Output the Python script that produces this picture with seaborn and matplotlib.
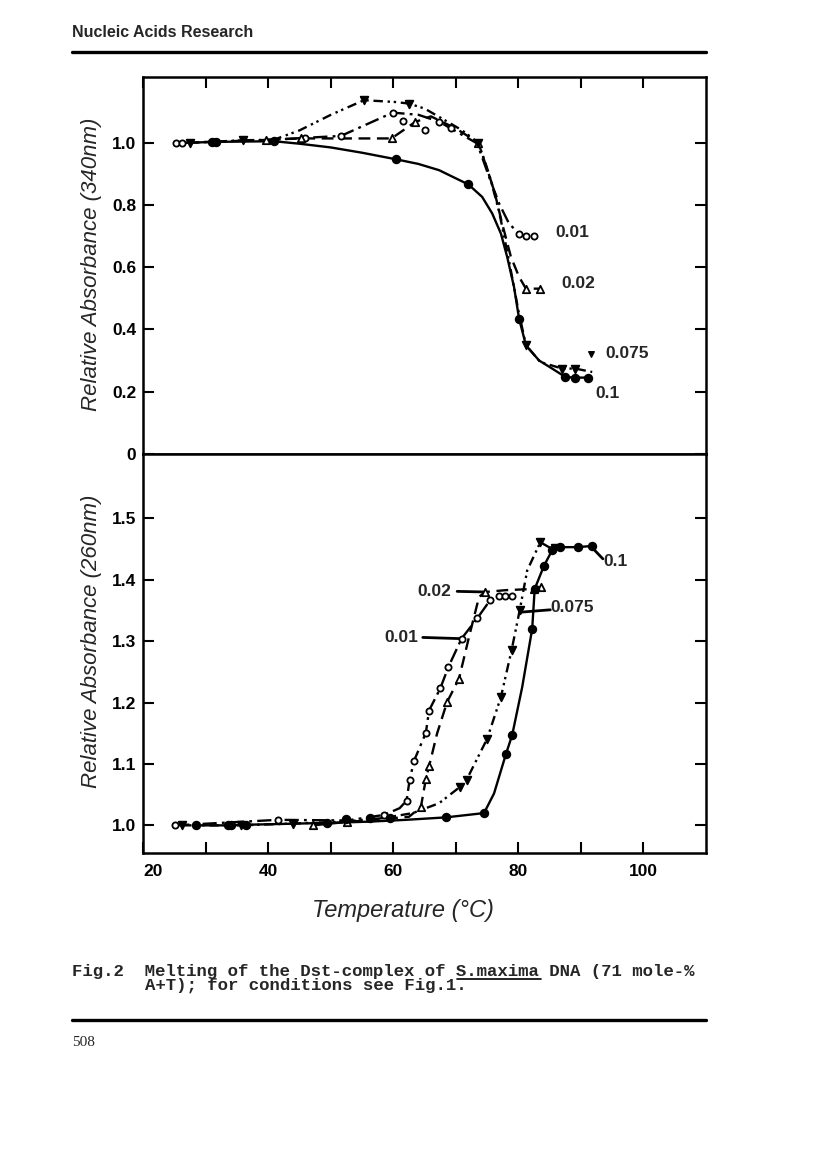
#Melting curves of the Dst-complex, two panels (340 nm and 260 nm)
import matplotlib
matplotlib.use("Agg")
import matplotlib.pyplot as plt
from matplotlib.lines import Line2D
import seaborn as sns

# ---- top panel (340 nm) ----
# 0.1 : solid line, filled circles
top_010_line_t = [27.0, 31.6, 40.9, 45.0, 50.0, 55.0, 60.4, 64.0, 67.3, 72.0, 74.2, 75.8, 77.2, 78.2, 79.3, 80.1, 81.2, 83.3, 85.4, 87.5, 89.0, 91.2]
top_010_line_v = [1.0, 1.003, 1.005, 0.997, 0.985, 0.968, 0.947, 0.932, 0.912, 0.866, 0.826, 0.773, 0.708, 0.633, 0.536, 0.435, 0.349, 0.300, 0.274, 0.247, 0.245, 0.245]
top_010_pts_t = [31.0, 31.6, 40.9, 60.4, 72.0, 80.1, 87.5, 89.0, 91.2]
top_010_pts_v = [1.003, 1.003, 1.005, 0.947, 0.866, 0.435, 0.247, 0.245, 0.245]

# 0.075 : dash-dot-dot, filled down triangles
top_0075_line_t = [27.5, 35.9, 40.9, 45.0, 50.0, 55.3, 60.4, 62.5, 65.0, 68.2, 71.0, 73.6, 75.3, 76.9, 78.5, 80.0, 81.2, 83.5, 87.0, 89.1, 91.8]
top_0075_line_v = [1.0, 1.008, 1.01, 1.04, 1.09, 1.137, 1.131, 1.126, 1.11, 1.073, 1.04, 1.0, 0.90, 0.78, 0.62, 0.46, 0.349, 0.295, 0.274, 0.274, 0.263]
top_0075_pts_t = [27.5, 35.9, 55.3, 62.5, 73.6, 81.2, 87.0, 89.1]
top_0075_pts_v = [1.0, 1.008, 1.137, 1.126, 1.0, 0.349, 0.274, 0.274]

# 0.02 : dashed, open triangles
top_002_line_t = [39.7, 45.3, 59.7, 63.5, 66.0, 70.0, 73.6, 76.1, 77.4, 78.8, 80.1, 81.2, 83.5]
top_002_line_v = [1.01, 1.014, 1.014, 1.067, 1.085, 1.046, 1.0, 0.848, 0.74, 0.633, 0.569, 0.531, 0.531]
top_002_pts_t = [39.7, 45.3, 59.7, 63.5, 73.6, 81.2, 83.5]
top_002_pts_v = [1.01, 1.014, 1.014, 1.067, 1.0, 0.531, 0.531]

# 0.01 : dash-dot, open circles
top_001_line_t = [25.3, 26.2, 40.9, 45.9, 51.6, 59.9, 64.0, 67.3, 69.2, 73.4, 75.3, 76.9, 78.5, 80.1, 81.2, 82.5]
top_001_line_v = [1.0, 1.0, 1.01, 1.016, 1.022, 1.097, 1.09, 1.068, 1.046, 0.998, 0.891, 0.805, 0.740, 0.708, 0.70, 0.70]
top_001_pts_t = [25.3, 26.2, 45.9, 51.6, 59.9, 61.5, 65.0, 67.3, 69.2, 80.1, 81.2, 82.5]
top_001_pts_v = [1.0, 1.0, 1.016, 1.022, 1.097, 1.07, 1.041, 1.068, 1.046, 0.708, 0.70, 0.70]

top_labels = ["0.01", "0.02", "0.075", "0.1"]
top_label_t = [88.6, 89.5, 97.4, 94.2]
top_label_v = [0.713, 0.547, 0.322, 0.193]

# ---- bottom panel (260 nm) ----
bot_010_line_t = [28.4, 33.5, 36.5, 49.4, 56.0, 62.0, 68.4, 74.5, 76.1, 78.0, 79.0, 80.6, 82.2, 82.6, 84.1, 85.4, 86.7, 89.5, 91.8]
bot_010_line_v = [1.0, 1.0, 1.001, 1.004, 1.006, 1.009, 1.013, 1.020, 1.052, 1.116, 1.147, 1.225, 1.320, 1.385, 1.423, 1.448, 1.453, 1.453, 1.455]
bot_010_pts_t = [28.4, 33.5, 34.1, 36.5, 49.4, 52.4, 56.2, 59.4, 68.4, 74.5, 78.0, 79.0, 82.2, 82.6, 84.1, 85.4, 86.7, 89.5, 91.8]
bot_010_pts_v = [1.0, 1.0, 1.0, 1.0, 1.004, 1.010, 1.012, 1.012, 1.013, 1.020, 1.116, 1.147, 1.320, 1.385, 1.423, 1.448, 1.453, 1.453, 1.455]

bot_0075_line_t = [26.2, 35.6, 44.0, 52.0, 58.5, 63.1, 67.3, 70.7, 71.7, 75.0, 77.2, 78.9, 80.2, 81.4, 83.5, 85.4]
bot_0075_line_v = [1.0, 1.0, 1.003, 1.006, 1.012, 1.020, 1.036, 1.063, 1.074, 1.141, 1.209, 1.285, 1.350, 1.415, 1.461, 1.450]
bot_0075_pts_t = [26.2, 35.6, 44.0, 70.7, 71.7, 75.0, 77.2, 78.9, 80.2, 83.5, 85.8]
bot_0075_pts_v = [1.0, 1.0, 1.003, 1.063, 1.074, 1.141, 1.209, 1.285, 1.350, 1.461, 1.452]

bot_002_line_t = [47.1, 52.0, 58.0, 62.5, 64.4, 65.2, 65.7, 67.0, 68.6, 70.5, 72.1, 73.7, 74.7, 78.0, 82.5, 83.6]
bot_002_line_v = [1.0, 1.005, 1.01, 1.014, 1.030, 1.076, 1.096, 1.15, 1.201, 1.239, 1.307, 1.372, 1.380, 1.383, 1.385, 1.388]
bot_002_pts_t = [47.1, 52.6, 64.4, 65.2, 65.7, 68.6, 70.5, 74.7, 82.5, 83.6]
bot_002_pts_v = [1.0, 1.005, 1.030, 1.076, 1.096, 1.201, 1.239, 1.380, 1.385, 1.388]

bot_001_line_t = [25.1, 41.5, 52.6, 58.5, 61.0, 62.1, 62.6, 63.3, 65.2, 65.7, 67.5, 68.8, 70.9, 73.4, 75.5, 76.9, 77.8, 78.9]
bot_001_line_v = [1.0, 1.009, 1.008, 1.017, 1.028, 1.040, 1.074, 1.105, 1.151, 1.187, 1.223, 1.258, 1.304, 1.337, 1.367, 1.373, 1.373, 1.373]
bot_001_pts_t = [25.1, 41.5, 52.6, 58.5, 62.1, 62.6, 63.3, 65.2, 65.7, 67.5, 68.8, 70.9, 73.4, 75.5, 76.9, 77.8, 78.9]
bot_001_pts_v = [1.0, 1.009, 1.008, 1.017, 1.040, 1.074, 1.105, 1.151, 1.187, 1.223, 1.258, 1.304, 1.337, 1.367, 1.373, 1.373, 1.373]

bot_labels = ["0.02", "0.01", "0.075", "0.1"]
bot_label_t = [66.5, 61.2, 88.6, 95.6]
bot_label_v = [1.381, 1.306, 1.355, 1.429]
# pointer lines from label to curve
bot_ptr_t = [[70.2, 74.7], [64.7, 70.9], [80.2, 85.1], [92.0, 93.5]]
bot_ptr_v = [[1.381, 1.380], [1.306, 1.304], [1.347, 1.351], [1.450, 1.434]]

top_yticks = [0, 0.2, 0.4, 0.6, 0.8, 1.0]
top_yticklabels = ["0", "0.2", "0.4", "0.6", "0.8", "1.0"]
bot_yticks = [1.0, 1.1, 1.2, 1.3, 1.4, 1.5]
bot_yticklabels = ["1.0", "1.1", "1.2", "1.3", "1.4", "1.5"]
xticks = [20, 30, 40, 50, 60, 70, 80, 90, 100]
xticklabels = ["20", "", "40", "", "60", "", "80", "", "100"]

sns.set_style("white")
plt.rcParams['font.family'] = ['Liberation Sans', 'DejaVu Sans']

W, H = 816, 1149
fig = plt.figure(figsize=(W / 100, H / 100), dpi=100)
ax1 = fig.add_axes([143.3 / W, 1 - 453.8 / H, 562.7 / W, 377.1 / H])
ax2 = fig.add_axes([143.3 / W, 1 - 853 / H, 562.7 / W, 399.2 / H])

dash_dotdot = (0, (4, 2, 1, 1.6, 1, 2))
dash_dot = (0, (6, 2.2, 1.2, 2.2))
dashed = (0, (5, 2.8))


def curve(ax, xs, ys, ls):
    sns.lineplot(x=xs, y=ys, ax=ax, color='black', linewidth=1.7, linestyle=ls,
                 sort=False, estimator=None)


def dots(ax, xs, ys, marker, filled, size):
    sns.scatterplot(x=xs, y=ys, ax=ax, marker=marker, s=size,
                    color='black' if filled else 'white', edgecolor='black',
                    linewidth=1.3, zorder=5)


# top panel
curve(ax1, top_010_line_t, top_010_line_v, '-')
curve(ax1, top_0075_line_t, top_0075_line_v, dash_dotdot)
curve(ax1, top_002_line_t, top_002_line_v, dashed)
curve(ax1, top_001_line_t, top_001_line_v, dash_dot)
dots(ax1, top_001_pts_t, top_001_pts_v, 'o', False, 20)
dots(ax1, top_002_pts_t, top_002_pts_v, '^', False, 28)
dots(ax1, top_0075_pts_t, top_0075_pts_v, 'v', True, 30)
dots(ax1, top_010_pts_t, top_010_pts_v, 'o', True, 30)
for lab, t, v in zip(top_labels, top_label_t, top_label_v):
    ax1.text(t, v, lab, ha='center', va='center', fontsize=12.5, fontweight='bold')
ax1.scatter([91.6], [0.322], marker='v', s=16, color='black', zorder=5)

# bottom panel
curve(ax2, bot_010_line_t, bot_010_line_v, '-')
curve(ax2, bot_0075_line_t, bot_0075_line_v, dash_dotdot)
curve(ax2, bot_002_line_t, bot_002_line_v, dashed)
curve(ax2, bot_001_line_t, bot_001_line_v, dash_dot)
dots(ax2, bot_001_pts_t, bot_001_pts_v, 'o', False, 20)
dots(ax2, bot_002_pts_t, bot_002_pts_v, '^', False, 28)
dots(ax2, bot_0075_pts_t, bot_0075_pts_v, 'v', True, 30)
dots(ax2, bot_010_pts_t, bot_010_pts_v, 'o', True, 30)
for lab, t, v in zip(bot_labels, bot_label_t, bot_label_v):
    ax2.text(t, v, lab, ha='center', va='center', fontsize=12.5, fontweight='bold')
for pt, pv in zip(bot_ptr_t, bot_ptr_v):
    ax2.plot(pt, pv, color='black', lw=2.0)

# axes styling
for ax in (ax1, ax2):
    ax.set_xlim(20, 110)
    ax.set_xticks(xticks)
    ax.set_xlabel("")
    ax.set_ylabel("")
    for sp in ax.spines.values():
        sp.set_linewidth(1.8)
        sp.set_color('black')
    ax.tick_params(axis='both', direction='in', length=8, width=1.5,
                   labelsize=12.5, pad=5, colors='black')
    ax.tick_params(axis='y', left=True, right=True)

ax1.set_ylim(0, 1.2125)
ax1.set_yticks(top_yticks)
ax1.set_yticklabels(top_yticklabels, fontweight='bold')
ax1.tick_params(axis='x', bottom=False, top=True, labelbottom=False)

ax2.set_ylim(0.955, 1.605)
ax2.set_yticks(bot_yticks)
ax2.set_yticklabels(bot_yticklabels, fontweight='bold')
ax2.set_xticklabels(xticklabels, fontweight='bold')
ax2.tick_params(axis='x', bottom=True, top=False, pad=8)
ax2.get_xticklabels()[0].set_ha('left')

# axis titles
fig.text(92 / W, 1 - 264 / H, "Relative Absorbance (340nm)", rotation=90,
         ha='center', va='center', fontsize=16, style='italic')
fig.text(92 / W, 1 - 641 / H, "Relative Absorbance (260nm)", rotation=90,
         ha='center', va='center', fontsize=16, style='italic')
fig.text(403 / W, 1 - 911 / H, "Temperature (°C)", ha='center', va='center',
         fontsize=17, style='italic')

# page header / caption / footer
fig.text(72 / W, 1 - 37 / H, "Nucleic Acids Research", fontsize=11.5,
         fontweight='bold', va='baseline')
fig.add_artist(Line2D([72 / W, 706 / W], [1 - 52 / H] * 2, lw=2.4, color='black'))

cap_fs = 12.5
cw = 0.6 * cap_fs * 100 / 72
fig.text(72 / W, 1 - 976 / H, "Fig.2  Melting of the Dst-complex of S.maxima DNA (71 mole-%",
         family='Liberation Mono', fontweight='bold', fontsize=cap_fs, va='baseline')
fig.text((72 + 7 * cw) / W, 1 - 990 / H, "A+T); for conditions see Fig.1.",
         family='Liberation Mono', fontweight='bold', fontsize=cap_fs, va='baseline')
fig.add_artist(Line2D([(72 + 37 * cw) / W, (72 + 45 * cw) / W], [1 - 979 / H] * 2,
                      lw=1.2, color='black'))

fig.add_artist(Line2D([72 / W, 706 / W], [1 - 1020 / H] * 2, lw=2.4, color='black'))
fig.text(72 / W, 1 - 1046 / H, "508", family='Liberation Serif', fontsize=11, va='baseline')

fig.savefig("out.png", dpi=100)
